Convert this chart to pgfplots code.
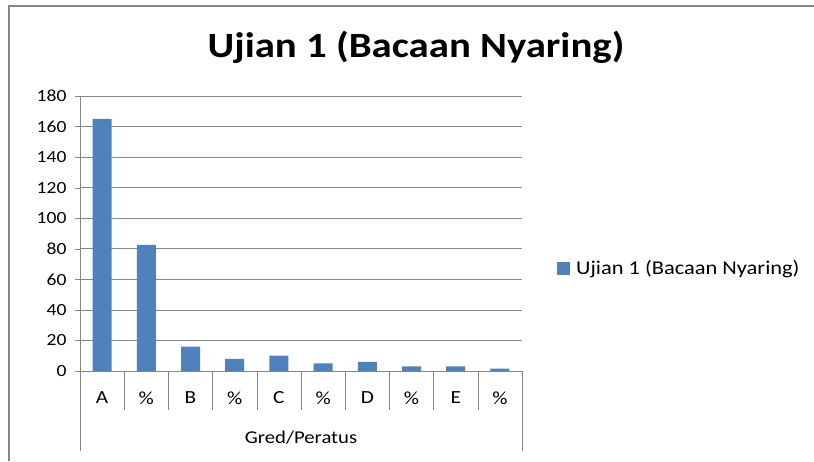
\documentclass[border=0pt]{standalone}
\usepackage{fontspec}
\setmainfont[FakeStretch=1.15]{Carlito}
\usepackage{pgfplots}
\pgfplotsset{compat=1.18}
\definecolor{barblue}{HTML}{4F81BD}
\definecolor{gridgray}{HTML}{868686}
\begin{document}
\begin{tikzpicture}
\useasboundingbox (0,0) rectangle (814pt,461pt);
\draw[gridgray, line width=1.5pt] (9pt,0) -- (9pt,455pt) -- (814pt,455pt);
\node[font=\fontsize{35.5}{40}\selectfont\bfseries] at (416pt,414pt) {Ujian 1 (Bacaan Nyaring)};
\begin{axis}[
  at={(80pt,90pt)}, anchor=south west, scale only axis,
  width=442pt, height=275pt,
  ymin=0, ymax=180, ytick={0,20,...,180},
  xmin=-0.5, xmax=9.5,
  xtick={0,...,9}, xticklabels={A,\%,B,\%,C,\%,D,\%,E,\%},
  axis x line*=bottom, axis y line*=left,
  axis line style={gridgray},
  ymajorgrids, grid style={gridgray, line width=0.6pt},
  tick align=outside, major tick length=5pt,
  y tick style={gridgray},
  x tick style={draw=none},
  /pgf/number format/assume math mode=true,
  yticklabel style={font=\fontsize{17}{19}\selectfont, xshift=-5pt},
  xticklabel style={font=\fontsize{18.5}{20}\selectfont, anchor=center, yshift=-22pt},
  clip=false,
  ybar, bar width=19pt,
  legend style={at={(1.079,0.3745)}, anchor=west, draw=none, fill=none,
    font=\fontsize{19.5}{22}\selectfont, inner sep=0pt},
  legend image code/.code={\fill[barblue] (0pt,-6.5pt) rectangle (13pt,6.5pt); \path (0pt,0pt) -- (17pt,0pt);},
]
\addplot[fill=barblue, draw=none] coordinates {
  (0,165) (1,82.5) (2,16) (3,8) (4,10) (5,5) (6,6) (7,3) (8,3) (9,1.5)
};
\addlegendentry{Ujian 1 (Bacaan Nyaring)}
\pgfplotsinvokeforeach{0.5,1.5,...,8.5}{
  \draw[gridgray, line width=0.6pt] (axis cs:#1,0) -- ([yshift=-39pt]axis cs:#1,0);
}
\draw[gridgray, line width=0.6pt] (axis cs:-0.5,0) -- ([yshift=-80pt]axis cs:-0.5,0);
\draw[gridgray, line width=0.6pt] (axis cs:9.5,0) -- ([yshift=-80pt]axis cs:9.5,0);
\node[font=\fontsize{18}{21}\selectfont] at ([yshift=-67pt]axis cs:4.5,0) {Gred/Peratus};
\end{axis}
\end{tikzpicture}
\end{document}
